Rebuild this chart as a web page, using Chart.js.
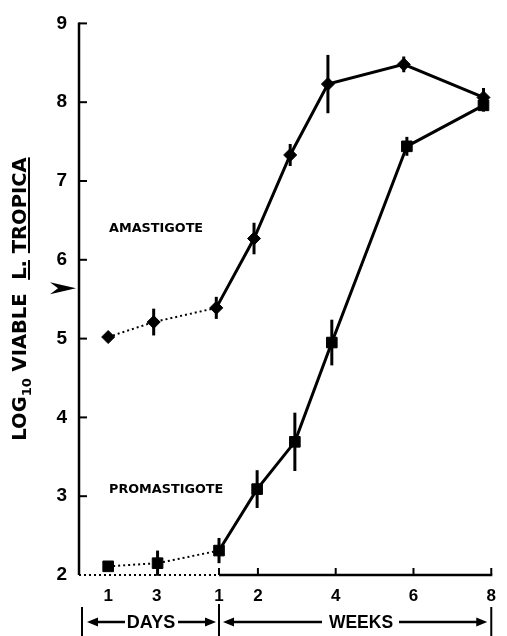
<!DOCTYPE html>
<html>
<head>
<meta charset="utf-8">
<script src="https://cdn.jsdelivr.net/npm/chart.js@4.4.1/dist/chart.umd.min.js"></script>
<style>
  html, body { margin: 0; padding: 0; background: #fff; }
  #wrap { width: 507px; height: 636px; position: relative; }
</style>
</head>
<body>
<div id="wrap"><canvas id="c" width="507" height="636"></canvas></div>
<script>
// ---- data ----
// x positions: days section compressed before week 1 (axis units = weeks)
const xTickPos    = [-1.85, -0.6, 1, 2, 4, 6, 8];
const xTickLabels = ['1', '3', '1', '2', '4', '6', '8'];
const yTicks      = [2, 3, 4, 5, 6, 7, 8, 9];

const amastX   = [-1.85, -0.68, 0.93, 1.9, 2.83, 3.8, 5.75, 7.8];
const amastY   = [5.02, 5.21, 5.39, 6.27, 7.33, 8.23, 8.48, 8.06];
const amastErr = [0.05, 0.17, 0.14, 0.20, 0.14, 0.37, 0.10, 0.12];

const promX    = [-1.85, -0.58, 1.0, 1.98, 2.95, 3.9, 5.83, 7.8];
const promY    = [2.11, 2.15, 2.31, 3.09, 3.69, 4.95, 7.44, 7.96];
const promErr  = [0.06, 0.16, 0.16, 0.24, 0.37, 0.29, 0.12, 0.08];

const inoculumLevel = 5.64;   // arrowhead marker on the y axis

const seriesNames = ['AMASTIGOTE', 'PROMASTIGOTE'];
const seriesLabelY = [6.39, 3.08];
const bracketLabels = ['DAYS', 'WEEKS'];

const INK = '#000';

function pts(xs, ys) { return xs.map((x, i) => ({ x: x, y: ys[i] })); }

const segStyle = {
  borderDash: ctx => ctx.p0DataIndex < 2 ? [2, 3] : undefined,
  borderWidth: ctx => ctx.p0DataIndex < 2 ? 2 : 3
};

const decor = {
  id: 'decor',
  beforeDatasetsDraw(chart) {
    const ctx = chart.ctx;
    const xs = chart.scales.x, ys = chart.scales.y;
    // error bars
    ctx.save();
    ctx.strokeStyle = INK;
    ctx.lineWidth = 3;
    [[amastX, amastY, amastErr], [promX, promY, promErr]].forEach(([X, Y, E]) => {
      X.forEach((x, i) => {
        const px = xs.getPixelForValue(x);
        ctx.beginPath();
        ctx.moveTo(px, ys.getPixelForValue(Y[i] - E[i]));
        ctx.lineTo(px, ys.getPixelForValue(Y[i] + E[i]));
        ctx.stroke();
      });
    });
    ctx.restore();
  },
  afterDraw(chart) {
    const ctx = chart.ctx;
    const xs = chart.scales.x, ys = chart.scales.y;
    const x0 = xs.getPixelForValue(xs.min);
    const xW1 = xs.getPixelForValue(1);
    const xEnd = xs.getPixelForValue(8);
    const yBase = ys.getPixelForValue(2);
    const yTop = ys.getPixelForValue(9);
    ctx.save();
    ctx.strokeStyle = INK; ctx.fillStyle = INK;
    ctx.lineCap = 'butt';

    // y axis line
    ctx.lineWidth = 2.5;
    ctx.beginPath(); ctx.moveTo(x0, yTop - 1); ctx.lineTo(x0, yBase); ctx.stroke();
    // y ticks (inside)
    ctx.lineWidth = 2;
    yTicks.forEach(v => {
      if (v === 2) return;
      const py = ys.getPixelForValue(v);
      ctx.beginPath(); ctx.moveTo(x0, py); ctx.lineTo(x0 + 8, py); ctx.stroke();
    });

    // x axis: dotted over days, solid over weeks
    ctx.lineWidth = 2;
    ctx.setLineDash([2, 3]);
    ctx.beginPath(); ctx.moveTo(x0, yBase); ctx.lineTo(xW1, yBase); ctx.stroke();
    ctx.setLineDash([]);
    ctx.lineWidth = 2.5;
    ctx.beginPath(); ctx.moveTo(xW1, yBase); ctx.lineTo(xEnd + 1, yBase); ctx.stroke();
    // week ticks (upwards)
    ctx.lineWidth = 2;
    [1, 2, 4, 6, 8].forEach(v => {
      const px = xs.getPixelForValue(v);
      ctx.beginPath(); ctx.moveTo(px, yBase); ctx.lineTo(px, yBase - 7); ctx.stroke();
    });

    // bottom brackets
    const yb = 622;
    ctx.lineWidth = 2;
    [[x0 + 3, 607], [xW1, 604], [xEnd, 607]].forEach(([px, top]) => {
      ctx.beginPath(); ctx.moveTo(px, top); ctx.lineTo(px, 636); ctx.stroke();
    });
    function arrow(from, to) {
      const dir = Math.sign(to - from);
      ctx.lineWidth = 2.5;
      ctx.beginPath(); ctx.moveTo(from, yb); ctx.lineTo(to - dir * 8, yb); ctx.stroke();
      ctx.beginPath();
      ctx.moveTo(to, yb);
      ctx.lineTo(to - dir * 11, yb - 4.5);
      ctx.lineTo(to - dir * 11, yb + 4.5);
      ctx.closePath(); ctx.fill();
    }
    arrow(125, x0 + 8);
    arrow(178, xW1 - 3);
    arrow(322, xW1 + 4);
    arrow(399, xEnd - 4);
    ctx.font = 'bold 18px "Liberation Sans", Arial, sans-serif';
    ctx.textAlign = 'center'; ctx.textBaseline = 'middle';
    ctx.fillText(bracketLabels[0], 151, yb + 1);
    ctx.font = 'bold 17.5px "Liberation Sans", Arial, sans-serif';
    ctx.fillText(bracketLabels[1], 361, yb + 1);

    // inoculum arrowhead
    const ay = ys.getPixelForValue(inoculumLevel);
    ctx.beginPath();
    ctx.moveTo(x0 - 3, ay);
    ctx.lineTo(50, ay - 6);
    ctx.lineTo(58, ay);
    ctx.lineTo(50, ay + 6);
    ctx.closePath(); ctx.fill();

    // series labels
    ctx.font = 'bold 12.8px "DejaVu Sans", sans-serif';
    ctx.textAlign = 'left'; ctx.textBaseline = 'middle';
    ctx.fillText(seriesNames[0], 109, ys.getPixelForValue(seriesLabelY[0]));
    ctx.fillText(seriesNames[1], 109, ys.getPixelForValue(seriesLabelY[1]));

    // y axis title (rotated, subscript, underline)
    ctx.translate(20, 299);
    ctx.rotate(-Math.PI / 2);
    ctx.textBaseline = 'alphabetic';
    const big = 'bold 19.5px "DejaVu Sans", sans-serif';
    const small = 'bold 13px "DejaVu Sans", sans-serif';
    const parts = [
      { t: 'LOG', f: big, dy: 6 },
      { t: '10', f: small, dy: 11 },
      { t: ' VIABLE  ', f: big, dy: 6 },
      { t: 'L.', f: big, dy: 6, u: true },
      { t: ' ', f: big, dy: 6 },
      { t: 'TROPICA', f: big, dy: 6, u: true }
    ];
    let total = 0;
    parts.forEach(p => { ctx.font = p.f; p.w = ctx.measureText(p.t).width; total += p.w; });
    let cx = -total / 2;
    parts.forEach(p => {
      ctx.font = p.f;
      ctx.fillText(p.t, cx, p.dy);
      if (p.u) {
        ctx.fillRect(cx, p.dy + 2, p.w, 2);
      }
      cx += p.w;
    });
    ctx.restore();
  }
};

new Chart(document.getElementById('c'), {
  type: 'line',
  data: {
    datasets: [
      {
        label: seriesNames[0],
        data: pts(amastX, amastY),
        borderColor: INK, backgroundColor: INK,
        borderWidth: 3,
        pointStyle: 'rectRot', pointRadius: 6.5,
        pointBackgroundColor: INK, pointBorderColor: INK, pointBorderWidth: 1,
        segment: segStyle, tension: 0, clip: false
      },
      {
        label: seriesNames[1],
        data: pts(promX, promY),
        borderColor: INK, backgroundColor: INK,
        borderWidth: 3,
        pointStyle: 'rect', pointRadius: 7.5,
        pointBackgroundColor: INK, pointBorderColor: INK, pointBorderWidth: 1,
        segment: segStyle, tension: 0, clip: false
      }
    ]
  },
  options: {
    responsive: false,
    animation: false,
    devicePixelRatio: 1,
    layout: { padding: { left: 0, top: 16, right: 2, bottom: 0 }, autoPadding: false },
    plugins: { legend: { display: false }, tooltip: { enabled: false } },
    scales: {
      x: {
        type: 'linear', min: -2.6, max: 8.02,
        grid: { display: false, drawTicks: false },
        border: { display: false },
        afterBuildTicks: s => { s.ticks = xTickPos.map(v => ({ value: v })); },
        afterFit: s => { s.height = 61; },
        ticks: {
          autoSkip: false, maxRotation: 0, padding: 11,
          color: INK,
          font: { family: '"Liberation Sans", Arial, sans-serif', size: 17, weight: 'bold' },
          callback: (v, i) => xTickLabels[i]
        }
      },
      y: {
        min: 2, max: 9,
        grid: { display: false, drawTicks: false },
        border: { display: false },
        afterBuildTicks: s => { s.ticks = yTicks.map(v => ({ value: v })); },
        afterFit: s => { s.width = 79; },
        ticks: {
          padding: 12, color: INK,
          font: { family: '"Liberation Sans", Arial, sans-serif', size: 19, weight: 'bold' },
          callback: v => String(v)
        }
      }
    }
  },
  plugins: [decor]
});
</script>
</body>
</html>
